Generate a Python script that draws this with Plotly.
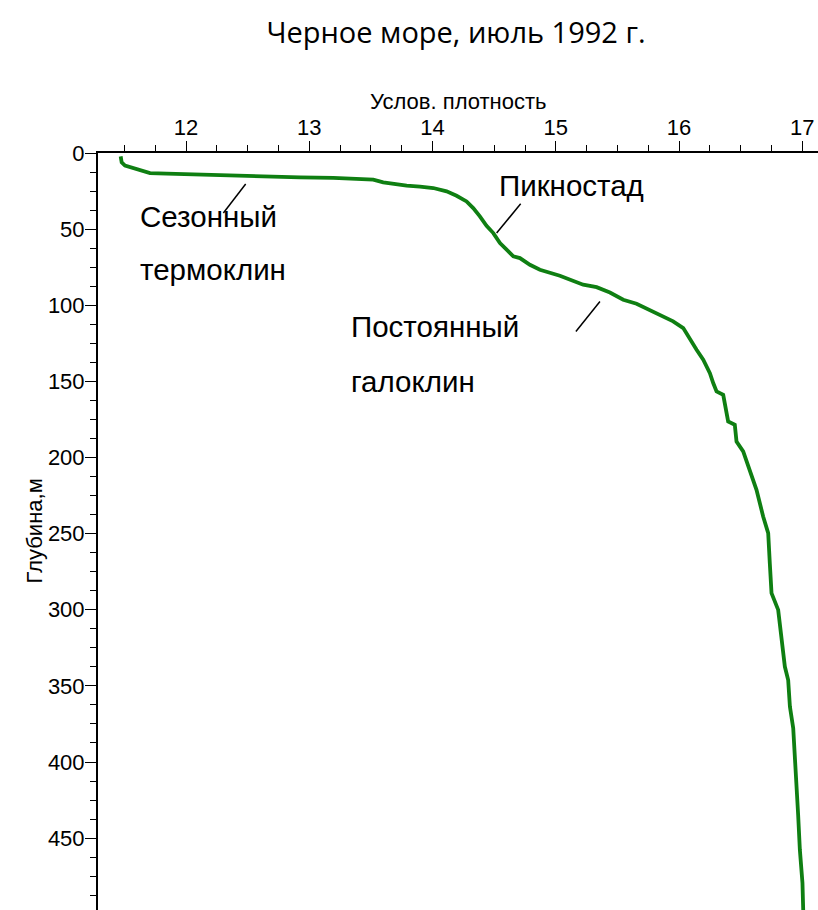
import plotly.graph_objects as go

# Conditional density (sigma-t) vs depth, Black Sea, July 1992
density = [11.470, 11.478, 11.505, 11.559, 11.627, 11.708, 11.843, 12.005, 12.195, 12.384,
           12.654, 12.925, 13.195, 13.411, 13.519, 13.600, 13.682, 13.790, 13.898, 14.006,
           14.114, 14.195, 14.276, 14.330, 14.384, 14.438, 14.493, 14.547, 14.601, 14.655,
           14.709, 14.790, 14.871, 14.952, 15.033, 15.222, 15.331, 15.439, 15.547, 15.655,
           15.817, 15.952, 16.034, 16.088, 16.142, 16.196, 16.250, 16.277, 16.304, 16.358,
           16.398, 16.452, 16.466, 16.520, 16.574, 16.628, 16.682, 16.723, 16.736, 16.750,
           16.804, 16.831, 16.858, 16.885, 16.899, 16.926, 16.939, 16.953, 16.966, 16.980,
           17.001, 17.007]
depth = [2.2, 6.2, 8.3, 9.7, 11.4, 13.2, 13.6, 14.0, 14.5, 15.1,
         15.6, 16.0, 16.4, 16.9, 17.5, 19.3, 20.4, 21.5, 22.1, 23.0,
         25.2, 28.1, 31.8, 36.2, 41.6, 47.8, 52.6, 59.2, 63.5, 67.9,
         69.0, 73.4, 76.7, 78.9, 80.6, 86.5, 88.1, 91.6, 96.4, 99.0,
         105.1, 110.6, 115.0, 122.7, 129.2, 135.8, 144.6, 151.1, 156.6, 158.8,
         176.3, 178.5, 189.5, 196.0, 208.1, 221.2, 238.7, 249.7, 269.4, 289.1,
         300.1, 317.6, 337.3, 346.1, 363.6, 377.8, 394.2, 415.0, 434.8, 457.8,
         479.6, 497.2]

# Labels: (text, x, depth)
label_texts = ["Сезонный", "термоклин", "Пикностад", "Постоянный", "галоклин"]
label_x = [11.610, 11.610, 14.525, 13.325, 13.325]
label_y = [41.9, 76.6, 21.5, 114.1, 150.3]

# Leader lines: (x0, y0, x1, y1)
leader_x0 = [12.303, 14.520, 15.163]
leader_y0 = [39.4, 52.6, 117.2]
leader_x1 = [12.484, 14.715, 15.358]
leader_y1 = [20.4, 33.3, 97.5]

x_range = [11.286, 17.127]
y_range = [497.2, 0]

x_title = "Услов. плотность"
y_title = "Глубина,м"

fig = go.Figure()
fig.add_trace(go.Scatter(x=density, y=depth, mode="lines",
                         line=dict(color="#0f7f12", width=3.8),
                         showlegend=False, hoverinfo="skip"))

for t, x, y in zip(label_texts, label_x, label_y):
    fig.add_annotation(x=x, y=y, text=t, showarrow=False, xanchor="left", yanchor="middle",
                       font=dict(family="Liberation Sans, Arial", size=29.5, color="black"))

for x0, y0, x1, y1 in zip(leader_x0, leader_y0, leader_x1, leader_y1):
    fig.add_shape(type="line", x0=x0, y0=y0, x1=x1, y1=y1, xref="x", yref="y",
                  line=dict(color="black", width=1.5))

title_font = dict(family="Liberation Sans, Arial", size=22, color="black")
# axis titles placed as annotations (plot area: 98..818 x 153..910 px)
fig.add_annotation(text=x_title, xref="paper", yref="paper", x=0.5, y=1 + (153 - 102) / 757,
                   xanchor="center", yanchor="middle", showarrow=False, font=title_font)
fig.add_annotation(text=y_title, xref="paper", yref="paper", x=(34 - 98) / 720, y=0.5,
                   xanchor="center", yanchor="middle", showarrow=False, textangle=-90,
                   font=title_font)

axis_font = dict(family="Liberation Sans, Arial", size=22, color="black")

fig.update_layout(
    width=818, height=910,
    margin=dict(l=98, r=0, t=153, b=0),
    paper_bgcolor="white", plot_bgcolor="white",
    title=dict(text="Черное море, июль 1992 г.", x=456 / 818, xref="container", xanchor="center",
               y=1 - 33 / 910, yref="container", yanchor="middle",
               font=dict(family="Open Sans, Noto Sans", size=29, color="black")),
    xaxis=dict(side="top", range=x_range, dtick=1, tick0=0, showgrid=False, zeroline=False,
               showline=True, linecolor="black", linewidth=2,
               ticks="outside", ticklen=10, tickwidth=1, tickcolor="black",
               tickfont=axis_font, ticklabelstandoff=-3,
               minor=dict(dtick=0.25, ticks="outside", ticklen=6, tickwidth=1, tickcolor="black")),
    yaxis=dict(range=y_range, dtick=50, tick0=0, showgrid=False, zeroline=False,
               showline=True, linecolor="black", linewidth=2,
               ticks="outside", ticklen=11, tickwidth=1, tickcolor="black",
               tickfont=axis_font, ticklabelstandoff=-4,
               minor=dict(dtick=12.5, ticks="outside", ticklen=6, tickwidth=1, tickcolor="black")),
)

fig.write_html("out.html")
